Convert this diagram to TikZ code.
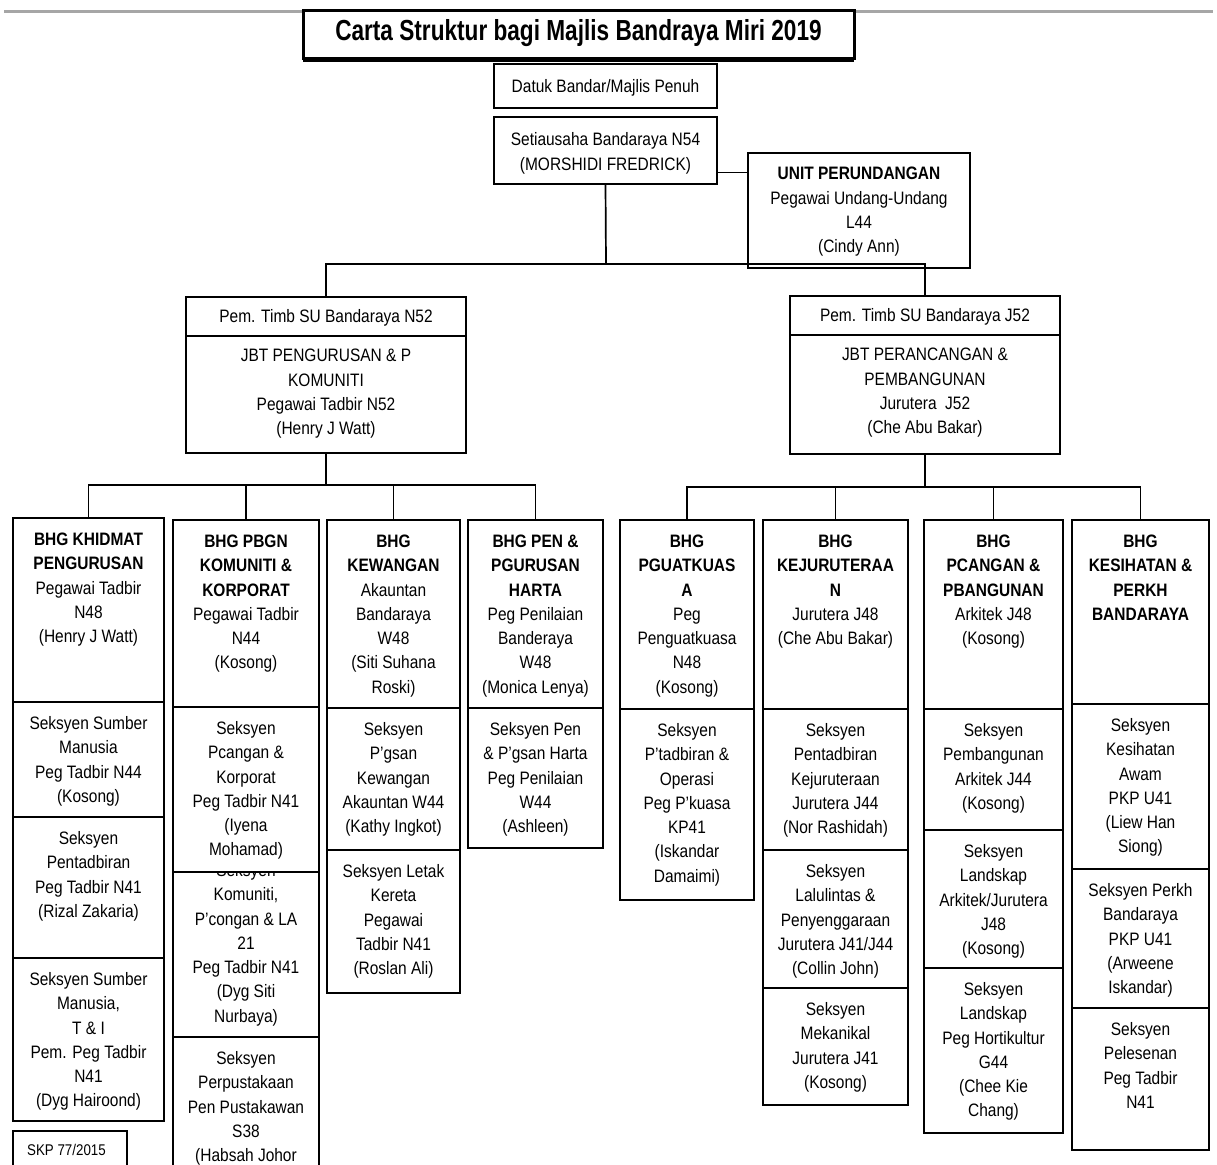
\documentclass[tikz,border=0pt]{standalone}
\usepackage{fontspec}
\setmainfont{Liberation Sans}[FakeStretch=0.86]
\newfontfamily\titlefont{Liberation Sans}[FakeStretch=0.78]
\usetikzlibrary{fit}
\tikzset{
  cellbox/.style={draw, line width=1.6pt, fill=white, inner sep=0pt, rectangle},
  txt/.style={align=center, inner sep=0pt, font=\fontsize{18}{24.3}\selectfont},
  conn/.style={line width=1.7pt},
}
\newcommand\mycell[7][-14]{%
  \node[cellbox, fit={(#3,#4) (#5,#6)}] (#2) {};
  \node[txt, anchor=north] (#2t) at ([yshift=#1pt]#2.north) {\rule{0pt}{14pt}#7};}
\begin{document}
\begin{tikzpicture}[x=1pt,y=-1pt]
\useasboundingbox (0,0) rectangle (1217,1164);
\clip (0,0) rectangle (1217,1164);
\fill[white] (0,0) rectangle (1217,1164);
% top rule
\draw[gray!70, line width=3pt] (4,12) -- (1213,12);
% title
\node[fit={(303,11) (854,59)}, draw, fill=white, line width=3pt, inner sep=0pt, outer sep=0pt] (title) {};
\draw[line width=3pt] ([yshift=-2pt]title.south west) -- ([yshift=-2pt]title.south east);
\node[font=\titlefont\fontsize{29}{32}\selectfont\bfseries, inner sep=0pt] (titlet) at ([yshift=1.5pt]title.center) {Carta Struktur bagi Majlis Bandraya Miri 2019};
% top boxes
\mycell[-15.5]{datuk}{494}{64}{717}{108}{Datuk Bandar/Majlis Penuh}
\mycell[-15.5]{sec}{494}{117}{717}{184}{Setiausaha Bandaraya N54\\(MORSHIDI FREDRICK)}
\mycell[-13.5]{unit}{748}{153}{970}{268}{\textbf{UNIT PERUNDANGAN}\\Pegawai Undang-Undang\\L44\\(Cindy Ann)}
\mycell[-12.5]{pemLa}{186}{297}{466}{336}{Pem. Timb SU Bandaraya N52}
\mycell[-12.5]{pemLb}{186}{336}{466}{453}{JBT PENGURUSAN \& P\\KOMUNITI\\Pegawai Tadbir N52\\(Henry J Watt)}
\mycell[-12.5]{pemRa}{790}{296}{1060}{335}{Pem. Timb SU Bandaraya J52}
\mycell[-12.5]{pemRb}{790}{335}{1060}{454}{JBT PERANCANGAN \&\\PEMBANGUNAN\\Jurutera\ \ J52\\(Che Abu Bakar)}
% column 1
\mycell{c1a}{13}{518}{164}{702}{\textbf{BHG KHIDMAT}\\\textbf{PENGURUSAN}\\Pegawai Tadbir\\N48\\(Henry J Watt)}
\mycell{c1b}{13}{702}{164}{817}{Seksyen Sumber\\Manusia\\Peg Tadbir N44\\(Kosong)}
\mycell{c1c}{13}{817}{164}{958}{Seksyen\\Pentadbiran\\Peg Tadbir N41\\(Rizal Zakaria)}
\mycell{c1d}{13}{958}{164}{1121}{Seksyen Sumber\\Manusia,\\T \& I\\Pem. Peg Tadbir\\N41\\(Dyg Hairoond)}
\node[cellbox, fit={(13,1131) (127,1180)}] (skp) {};
\node[txt, font=\fontsize{15.5}{20}\selectfont, anchor=west] (skpt) at (27,1150) {SKP 77/2015};
% column 2
\mycell{c2a}{173}{520}{319}{707}{\textbf{BHG PBGN}\\\textbf{KOMUNITI \&}\\\textbf{KORPORAT}\\Pegawai Tadbir\\N44\\(Kosong)}
\mycell[9]{c2c}{173}{872}{319}{1037}{Seksyen\\Komuniti,\\P'congan \& LA\\21\\Peg Tadbir N41\\(Dyg Siti\\Nurbaya)}
\mycell{c2b}{173}{707}{319}{872}{Seksyen\\Pcangan \&\\Korporat\\Peg Tadbir N41\\(Iyena\\Mohamad)}
\mycell{c2d}{173}{1037}{319}{1180}{Seksyen\\Perpustakaan\\Pen Pustakawan\\S38\\(Habsah Johor}
% column 3
\mycell{c3a}{327}{520}{460}{708}{\textbf{BHG}\\\textbf{KEWANGAN}\\Akauntan\\Bandaraya\\W48\\(Siti Suhana\\Roski)}
\mycell{c3b}{327}{708}{460}{850}{Seksyen\\P'gsan\\Kewangan\\Akauntan W44\\(Kathy Ingkot)}
\mycell{c3c}{327}{850}{460}{993}{Seksyen Letak\\Kereta\\Pegawai\\Tadbir N41\\(Roslan Ali)}
% column 4
\mycell{c4a}{468}{520}{603}{708}{\textbf{BHG PEN \&}\\\textbf{PGURUSAN}\\\textbf{HARTA}\\Peg Penilaian\\Banderaya\\W48\\(Monica Lenya)}
\mycell{c4b}{468}{708}{603}{848}{Seksyen Pen\\\& P'gsan Harta\\Peg Penilaian\\W44\\(Ashleen)}
% column 5
\mycell{c5a}{620}{520}{754}{709}{\textbf{BHG}\\\textbf{PGUATKUAS}\\\textbf{A}\\Peg\\Penguatkuasa\\N48\\(Kosong)}
\mycell{c5b}{620}{709}{754}{900}{Seksyen\\P'tadbiran \&\\Operasi\\Peg P'kuasa\\KP41\\(Iskandar\\Damaimi)}
% column 6
\mycell{c6a}{763}{520}{908}{709}{\textbf{BHG}\\\textbf{KEJURUTERAA}\\\textbf{N}\\Jurutera J48\\(Che Abu Bakar)}
\mycell{c6b}{763}{709}{908}{850}{Seksyen\\Pentadbiran\\Kejuruteraan\\Jurutera J44\\(Nor Rashidah)}
\mycell{c6c}{763}{850}{908}{988}{Seksyen\\Lalulintas \&\\Penyenggaraan\\Jurutera J41/J44\\(Collin John)}
\mycell{c6d}{763}{988}{908}{1105}{Seksyen\\Mekanikal\\Jurutera J41\\(Kosong)}
% column 7
\mycell{c7a}{924}{520}{1063}{709}{\textbf{BHG}\\\textbf{PCANGAN \&}\\\textbf{PBANGUNAN}\\Arkitek J48\\(Kosong)}
\mycell{c7b}{924}{709}{1063}{830}{Seksyen\\Pembangunan\\Arkitek J44\\(Kosong)}
\mycell{c7c}{924}{830}{1063}{968}{Seksyen\\Landskap\\Arkitek/Jurutera\\J48\\(Kosong)}
\mycell{c7d}{924}{968}{1063}{1133}{Seksyen\\Landskap\\Peg Hortikultur\\G44\\(Chee Kie\\Chang)}
% column 8
\mycell{c8a}{1072}{520}{1209}{704}{\textbf{BHG}\\\textbf{KESIHATAN \&}\\\textbf{PERKH}\\\textbf{BANDARAYA}}
\mycell{c8b}{1072}{704}{1209}{869}{Seksyen\\Kesihatan\\Awam\\PKP U41\\(Liew Han\\Siong)}
\mycell{c8c}{1072}{869}{1209}{1008}{Seksyen Perkh\\Bandaraya\\PKP U41\\(Arweene\\Iskandar)}
\mycell{c8d}{1072}{1008}{1209}{1150}{Seksyen\\Pelesenan\\Peg Tadbir\\N41}
% connectors
\coordinate (jt) at (606,264);
\draw[conn] (sec.south) -- (jt);
\draw[conn] (pemLa.north) |- (jt) -| (pemRa.north);
\draw[conn] ([yshift=-22pt]sec.east) -- ([yshift=-22pt]sec.east -| unit.west);
\coordinate (jl) at (326,485);
\draw[conn] (pemLb.south) -- (jl);
\draw[conn] (c1a.north) |- (jl) -| (c4a.north);
\draw[conn] (c2a.north) -- (c2a.north |- jl);
\draw[conn] (c3a.north) -- (c3a.north |- jl);
\coordinate (jr) at (925,487);
\draw[conn] (pemRb.south) -- (jr);
\draw[conn] (c5a.north) |- (jr) -| (c8a.north);
\draw[conn] (c6a.north) -- (c6a.north |- jr);
\draw[conn] (c7a.north) -- (c7a.north |- jr);
\end{tikzpicture}
\end{document}
